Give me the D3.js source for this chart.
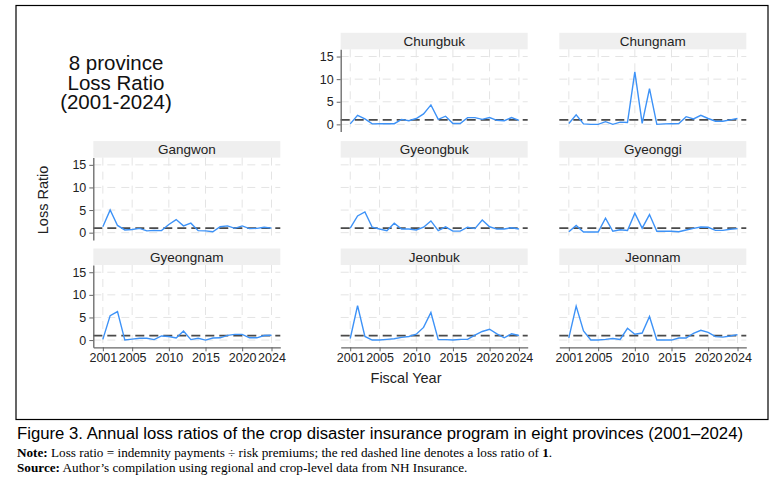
<!DOCTYPE html>
<html>
<head>
<meta charset="utf-8">
<script src="https://cdn.jsdelivr.net/npm/d3@7/dist/d3.min.js"></script>
<style>
  body { margin: 0; background: #fff; }
  text { font-family: "Liberation Sans", Arial, sans-serif; }
</style>
</head>
<body>
<svg id="chart" width="778" height="481"></svg>
<script>
// Fiscal years 2001-2024
var years = [2001, 2002, 2003, 2004, 2005, 2006, 2007, 2008, 2009, 2010, 2011, 2012,
             2013, 2014, 2015, 2016, 2017, 2018, 2019, 2020, 2021, 2022, 2023, 2024];

// loss ratio by province
var chungbuk  = [0.1, 2.0, 1.2, 0.1, 0.15, 0.15, 0.15, 1.1, 0.8, 1.3, 2.3, 4.3,
                 1.1, 1.8, 0.2, 0.2, 1.5, 1.5, 1.1, 1.5, 0.9, 0.8, 1.5, 0.9];
var chungnam  = [0.2, 2.1, 0.1, 0.0, 0.0, 0.6, 0.0, 0.5, 0.4, 11.6, 0.2, 7.9,
                 0.0, 0.1, 0.15, 0.2, 1.7, 1.2, 2.0, 1.3, 0.7, 0.7, 1.0, 1.3];
var gangwon   = [1.3, 5.0, 1.6, 0.6, 0.7, 0.95, 0.4, 0.5, 0.45, 1.8, 2.9, 1.5,
                 2.1, 0.45, 0.4, 0.2, 1.3, 1.5, 0.95, 1.5, 0.9, 0.95, 1.2, 1.0];
var gyeongbuk = [1.0, 3.7, 4.6, 1.2, 0.8, 0.45, 2.1, 0.8, 0.8, 0.6, 1.2, 2.6,
                 0.45, 1.3, 0.35, 0.35, 1.2, 0.9, 2.8, 1.3, 0.8, 0.8, 1.1, 0.8];
var gyeonggi  = [0.2, 1.6, 0.15, 0.15, 0.15, 3.2, 0.3, 0.65, 0.5, 4.3, 1.0, 4.0,
                 0.3, 0.35, 0.3, 0.2, 0.6, 0.95, 1.25, 1.2, 0.5, 0.5, 0.75, 0.9];
var gyeongnam = [0.15, 5.4, 6.3, 0.0, 0.2, 0.4, 0.4, 0.1, 0.9, 0.8, 0.45, 2.0,
                 0.1, 0.4, 0.0, 0.45, 0.5, 1.05, 1.25, 1.25, 0.5, 0.5, 1.0, 1.05];
var jeonbuk   = [0.35, 7.6, 0.8, 0.0, 0.0, 0.15, 0.3, 0.6, 0.8, 1.3, 2.8, 6.1,
                 0.1, 0.1, 0.0, 0.15, 0.15, 1.1, 1.9, 2.4, 1.35, 0.5, 1.4, 1.0];
var jeonnam   = [0.5, 7.5, 2.0, 0.0, 0.0, 0.15, 0.35, 0.15, 2.6, 1.3, 1.55, 5.2,
                 0.0, 0.0, 0.0, 0.45, 0.45, 1.5, 2.15, 1.7, 0.75, 0.65, 0.9, 1.2];

var names = ["Chungbuk", "Chungnam", "Gangwon", "Gyeongbuk", "Gyeonggi",
             "Gyeongnam", "Jeonbuk", "Jeonnam"];
var series = [chungbuk, chungnam, gangwon, gyeongbuk, gyeonggi, gyeongnam, jeonbuk, jeonnam];

var yTicks = [0, 5, 10, 15];
var xTicks = [2001, 2005, 2010, 2015, 2020, 2024];
var refLine = 1;

// panel grid (col, row); first row starts in column 1 like the Stata byplot
var cells = [[1, 0], [2, 0], [0, 1], [1, 1], [2, 1], [0, 2], [1, 2], [2, 2]];
var colX = [93.3, 340.7, 559.3];
var rowY = [49.3, 157.6, 265.0];
var pw = 187, ph = 82.3, stripH = 16.5;

var svg = d3.select("#chart");

// outer frame
svg.append("rect")
  .attr("x", 16).attr("y", 5.5)
  .attr("width", 752).attr("height", 414)
  .attr("fill", "none")
  .attr("stroke", "#000")
  .attr("stroke-width", 1.2);

var x = d3.scaleLinear().domain([1999.7, 2025.2]).range([0, pw]);
var y = d3.scaleLinear().domain([-1.6, 16.6]).range([ph, 0]);

var line = d3.line()
  .x(function(d, i) { return x(years[i]); })
  .y(function(d) { return y(d); });

names.forEach(function(name, k) {
  var c = cells[k][0], r = cells[k][1];
  var g = svg.append("g")
    .attr("transform", "translate(" + colX[c] + "," + rowY[r] + ")");

  // strip
  g.append("rect")
    .attr("x", 0).attr("y", -stripH)
    .attr("width", pw).attr("height", stripH)
    .attr("fill", "#efefef");
  g.append("text")
    .attr("x", pw / 2).attr("y", -3.5)
    .attr("text-anchor", "middle")
    .attr("font-size", 13.5)
    .attr("fill", "#222")
    .text(name);

  // grid lines
  g.selectAll(".hg").data(yTicks).enter().append("line")
    .attr("x1", 0).attr("x2", pw)
    .attr("y1", d => y(d)).attr("y2", d => y(d))
    .attr("stroke", "#e4e4e4").attr("stroke-width", 1)
    .attr("stroke-dasharray", "8,6");
  g.selectAll(".vg").data(xTicks).enter().append("line")
    .attr("x1", d => x(d)).attr("x2", d => x(d))
    .attr("y1", 0).attr("y2", ph)
    .attr("stroke", "#e4e4e4").attr("stroke-width", 1)
    .attr("stroke-dasharray", "8,6");

  // loss ratio = 1
  g.append("line")
    .attr("x1", 0).attr("x2", pw)
    .attr("y1", y(refLine)).attr("y2", y(refLine))
    .attr("stroke", "#4a4a4a").attr("stroke-width", 1.8)
    .attr("stroke-dasharray", "9,5");

  g.append("path")
    .datum(series[k])
    .attr("d", line)
    .attr("fill", "none")
    .attr("stroke", "#3d92f7")
    .attr("stroke-width", 1.4);

  // y axis on the first panel of each row
  if (k == 0 || k == 2 || k == 5) {
    var ya = g.append("g")
      .call(d3.axisLeft(y).tickValues(yTicks).tickSize(4).tickSizeOuter(0).tickPadding(3));
    ya.select(".domain").attr("stroke", "#666").attr("stroke-width", 1.3);
    ya.selectAll(".tick line").attr("stroke", "#666");
    ya.selectAll("text").attr("font-size", 12.5).attr("fill", "#222")
      .style("font-family", "Liberation Sans, Arial, sans-serif");
  }
  // x axis on bottom row
  if (r == 2) {
    var xa = g.append("g")
      .attr("transform", "translate(0," + ph + ")")
      .call(d3.axisBottom(x).tickValues(xTicks).tickFormat(d3.format("d"))
        .tickSize(4).tickSizeOuter(0).tickPadding(2));
    xa.select(".domain").attr("stroke", "#666").attr("stroke-width", 1.3);
    xa.selectAll(".tick line").attr("stroke", "#666");
    xa.selectAll("text").attr("font-size", 12.5).attr("fill", "#222")
      .style("font-family", "Liberation Sans, Arial, sans-serif");
  }
});

// axis titles
svg.append("text")
  .attr("transform", "translate(48,200) rotate(-90)")
  .attr("text-anchor", "middle")
  .attr("font-size", 14.5)
  .attr("fill", "#222")
  .text("Loss Ratio");

svg.append("text")
  .attr("x", 406).attr("y", 383)
  .attr("text-anchor", "middle")
  .attr("font-size", 14.5)
  .attr("fill", "#222")
  .text("Fiscal Year");

// plot title, one text block with tight Stata-like line spacing
var titleLines = ["8 province", "Loss Ratio", "(2001-2024)"];
svg.append("text")
  .attr("y", 70)
  .attr("text-anchor", "middle")
  .attr("font-size", 20.5)
  .attr("fill", "#111")
  .selectAll("tspan").data(titleLines).enter().append("tspan")
  .attr("x", 116)
  .attr("dy", (d, i) => i == 0 ? 0 : 19.5)
  .text(d => d);

// caption + notes
svg.append("text")
  .attr("x", 17).attr("y", 439)
  .attr("font-size", 16)
  .attr("textLength", 726)
  .attr("lengthAdjust", "spacingAndGlyphs")
  .style("font-family", "'Liberation Sans Narrow', 'Arial Narrow', 'Liberation Sans', Arial, sans-serif")
  .attr("fill", "#000")
  .text("Figure 3. Annual loss ratios of the crop disaster insurance program in eight provinces (2001\u20132024)");

var note = svg.append("text")
  .attr("x", 17).attr("y", 457)
  .attr("font-size", 13.2)
  .style("font-family", "'Liberation Serif', 'Times New Roman', serif");
note.append("tspan").attr("font-weight", "bold").text("Note:");
note.append("tspan").text(" Loss ratio = indemnity payments \u00f7 risk premiums; the red dashed line denotes a loss ratio of ");
note.append("tspan").attr("font-weight", "bold").text("1");
note.append("tspan").text(".");

var src = svg.append("text")
  .attr("x", 17).attr("y", 472)
  .attr("font-size", 13.2)
  .style("font-family", "'Liberation Serif', 'Times New Roman', serif");
src.append("tspan").attr("font-weight", "bold").text("Source:");
src.append("tspan").text(" Author\u2019s compilation using regional and crop-level data from NH Insurance.");
</script>
</body>
</html>
